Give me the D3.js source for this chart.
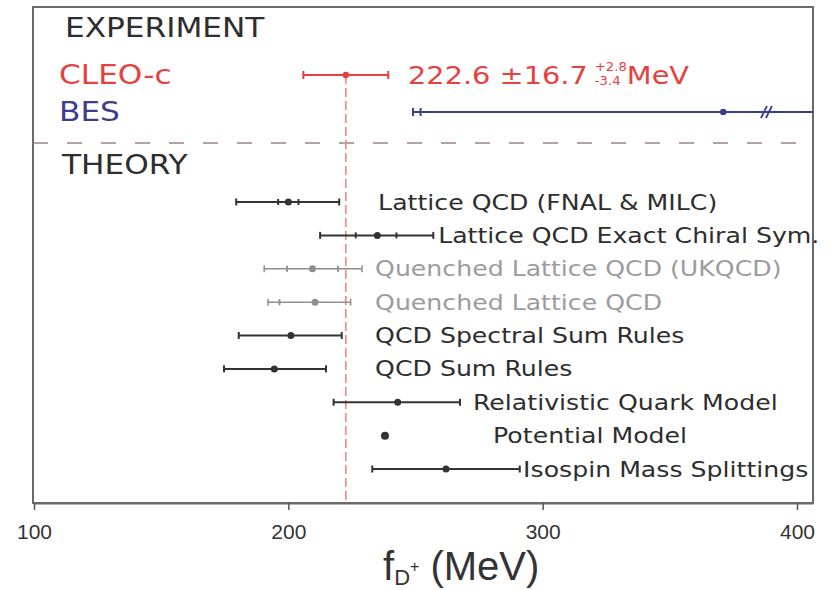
<!DOCTYPE html>
<html><head><meta charset="utf-8">
<script src="https://cdn.jsdelivr.net/npm/d3@7"></script>
<style>body{margin:0;background:#fff}</style>
</head><body>
<svg id="chart" width="831" height="590"></svg>
<script>
// ---- data (MeV) ----
const cleoName = "CLEO-c";
const cleoValue = 222.6;
const cleoStat = 16.7;
const cleoSystUp = 2.8;
const cleoSystDown = 3.4;

const besName = "BES";
const besValue = 371;
const besStatLo = 252;   // inner tick
const besTotLo = 249;    // outer tick
const besHi = 500;       // runs off the axis
const besBreakAt = 388;  // axis-break marker on the line

const theoryLabels = [
  "Lattice QCD (FNAL & MILC)",
  "Lattice QCD Exact Chiral Sym.",
  "Quenched Lattice QCD (UKQCD)",
  "Quenched Lattice QCD",
  "QCD Spectral Sum Rules",
  "QCD Sum Rules",
  "Relativistic Quark Model",
  "Potential Model",
  "Isospin Mass Splittings"
];
const theoryCentral = [200, 235, 209.5, 210.5, 201, 194.5, 243, 238, 262];
const theoryLo      = [179.5, 212.5, 190.5, 192, 180.5, 174.7, 217.8, null, 233];
const theoryHi      = [220, 257, 229, 224.5, 221, 214.8, 267.5, null, 291];
const theoryInnerLo = [196, 226.5, 199.5, 196.5, null, null, null, null, null];
const theoryInnerHi = [204, 242.5, 219.5, null, null, null, null, null, null];
const theoryQuenched = [false, false, true, true, false, false, false, false, false];

const tickValues = [100, 200, 300, 400];

// ---- layout ----
const labelAt = [235.3, 258.9, 234.1, 234.1, 234.1, 234.1, 272.6, 280.5, 292.3];
const FONT = "'DejaVu Sans', sans-serif";
const SX = 1.2; // wide geometric lettering
const DARK = "#2e2e2e", GREY = "#9c9c9c", RED = "#e5413f", BLUE = "#3d3d8e";

const svg = d3.select("#chart");
const x = d3.scaleLinear().domain([99.6, 406.3]).range([33, 813]);
const yTop = 7, yBottom = 503;
const yExp = d3.scalePoint().domain([cleoName, besName]).range([75, 112]);
const yTh = d3.scalePoint().domain(theoryLabels).range([202, 469]);

function label(g, px, cy, str, size, fill, sx = SX) {
  return g.append("text")
    .attr("transform", `translate(${px},${cy + size * 0.36}) scale(${sx},1)`)
    .attr("font-family", FONT).attr("font-size", size).attr("fill", fill)
    .text(str);
}

svg.append("defs").append("clipPath").attr("id", "frame")
  .append("rect").attr("x", x.range()[0]).attr("y", yTop)
  .attr("width", x.range()[1] - x.range()[0]).attr("height", yBottom - yTop);

// frame
svg.append("rect")
  .attr("x", x.range()[0]).attr("y", yTop)
  .attr("width", x.range()[1] - x.range()[0]).attr("height", yBottom - yTop)
  .attr("fill", "none").attr("stroke", "#6a6a6a").attr("stroke-width", 2);

// axis
const axis = svg.append("g").attr("transform", `translate(0,${yBottom})`)
  .call(d3.axisBottom(x).tickValues(tickValues).tickSize(7).tickSizeOuter(0).tickPadding(14));
axis.select(".domain").attr("stroke", "#6a6a6a").attr("stroke-width", 2);
axis.selectAll(".tick line").attr("stroke", "#555").attr("stroke-width", 1.5);
axis.selectAll(".tick text").attr("font-family", "'Liberation Sans', sans-serif")
  .attr("font-size", 21).attr("fill", "#333");

// axis title: f_{D+} (MeV)
const title = svg.append("text").attr("x", 383).attr("y", 580)
  .attr("font-family", "'Liberation Sans', sans-serif").attr("font-size", 40).attr("fill", "#333");
title.append("tspan").text("f");
title.append("tspan").attr("font-size", 22).attr("dy", 5).text("D");
title.append("tspan").attr("font-size", 16).attr("dy", -13).text("+");
title.append("tspan").attr("dy", 8).text(" (MeV)");

// section headings and separator
label(svg, 65, 28, "EXPERIMENT", 26, DARK);
label(svg, 62, 165, "THEORY", 26, DARK);
svg.append("line").attr("x1", x.range()[0]).attr("x2", 800)
  .attr("y1", 143).attr("y2", 143)
  .attr("stroke", "#9a8585").attr("stroke-width", 1.6).attr("stroke-dasharray", "15,19");

// CLEO-c reference line
svg.append("line").attr("x1", x(cleoValue)).attr("x2", x(cleoValue))
  .attr("y1", yExp(cleoName)).attr("y2", yBottom)
  .attr("stroke", "#f08a82").attr("stroke-width", 1.6).attr("stroke-dasharray", "9,4");

// error bar helper
function errBar(g, y, lo, hi, color, width, cap) {
  g.append("line").attr("x1", x(lo)).attr("x2", x(hi)).attr("y1", y).attr("y2", y)
    .attr("stroke", color).attr("stroke-width", width);
  [lo, hi].forEach(v => g.append("line").attr("x1", x(v)).attr("x2", x(v))
    .attr("y1", y - cap).attr("y2", y + cap).attr("stroke", color).attr("stroke-width", width));
}
function tick(g, y, v, color, cap) {
  g.append("line").attr("x1", x(v)).attr("x2", x(v)).attr("y1", y - cap).attr("y2", y + cap)
    .attr("stroke", color).attr("stroke-width", 2);
}

// CLEO-c
const gExp = svg.append("g");
const yC = yExp(cleoName);
errBar(gExp, yC, cleoValue - cleoStat, cleoValue + cleoStat, RED, 2, 4);
gExp.append("circle").attr("cx", x(cleoValue)).attr("cy", yC).attr("r", 3.2).attr("fill", RED);
label(gExp, 59, yC, cleoName, 26, RED);
const vt = label(gExp, 408, yC, `${cleoValue} \u00b1${cleoStat}`, 24, RED);
const vEnd = 408 + vt.node().getComputedTextLength() * SX + 7;
label(gExp, vEnd, yC - 8, `+${cleoSystUp}`, 12, RED, 1.1);
label(gExp, vEnd, yC + 6, `-${cleoSystDown}`, 12, RED, 1.1);
label(gExp, vEnd + 32, yC, "MeV", 24, RED);

// BES
const yB = yExp(besName);
const gB = svg.append("g").attr("clip-path", "url(#frame)");
gB.append("line").attr("x1", x(besTotLo)).attr("x2", x(besHi)).attr("y1", yB).attr("y2", yB)
  .attr("stroke", BLUE).attr("stroke-width", 1.8);
tick(gB, yB, besTotLo, BLUE, 4);
tick(gB, yB, besStatLo, BLUE, 4);
gB.append("circle").attr("cx", x(besValue)).attr("cy", yB).attr("r", 3.2).attr("fill", BLUE);
[-2.5, 2.5].forEach(d => gB.append("line")
  .attr("x1", x(besBreakAt) + d - 3).attr("x2", x(besBreakAt) + d + 3)
  .attr("y1", yB + 6).attr("y2", yB - 6).attr("stroke", BLUE).attr("stroke-width", 1.8));
label(svg, 59, yB, besName, 26, BLUE);

// theory predictions
const gT = svg.append("g");
theoryLabels.forEach((name, i) => {
  const y = yTh(name);
  const col = theoryQuenched[i] ? "#8f8f8f" : "#333";
  const w = theoryQuenched[i] ? 1.5 : 2;
  if (theoryLo[i] != null) errBar(gT, y, theoryLo[i], theoryHi[i], col, w, 3.5);
  if (theoryInnerLo[i] != null) tick(gT, y, theoryInnerLo[i], col, 3);
  if (theoryInnerHi[i] != null) tick(gT, y, theoryInnerHi[i], col, 3);
  gT.append("circle").attr("cx", x(theoryCentral[i])).attr("cy", y)
    .attr("r", theoryLo[i] == null ? 4 : 3.5).attr("fill", col);
  label(gT, x(labelAt[i]), y, name, 21, theoryQuenched[i] ? GREY : DARK);
});
</script>
</body></html>
